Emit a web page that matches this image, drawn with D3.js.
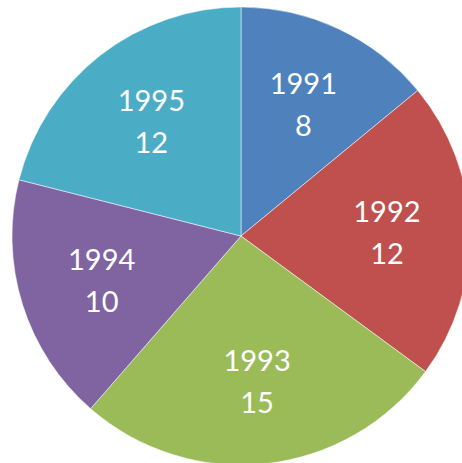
<!DOCTYPE html>
<html>
<head>
<meta charset="utf-8">
<script src="https://cdn.jsdelivr.net/npm/d3@7"></script>
<style>
  body { margin: 0; background: #fff; }
</style>
</head>
<body>
<div id="pie"></div>
<script>
// values
var years = ["1991", "1992", "1993", "1994", "1995"];
var counts = [8, 12, 15, 10, 12];
var colors = ["#4f81bd", "#c0504d", "#9bbb59", "#8064a2", "#4bacc6"];

var width = 462, height = 463;
var cx = 241, cy = 236, radius = 229;

var svg = d3.select("#pie")
  .append("svg")
  .attr("width", width)
  .attr("height", height)
  .append("g")
  .attr("transform", `translate(${cx},${cy})`);

var data = years.map((y, i) => ({year: y, value: counts[i]}));

var pie = d3.pie()
  .value(d => d.value)
  .sort(null);

var arc = d3.arc().innerRadius(0).outerRadius(radius);
var labelArc = d3.arc().innerRadius(146).outerRadius(146);

var color = d3.scaleOrdinal().domain(years).range(colors);

var slices = pie(data);

svg.selectAll("path")
  .data(slices)
  .join("path")
  .attr("d", arc)
  .attr("fill", d => color(d.data.year))
  .attr("stroke", "rgba(255,255,255,0.5)")
  .attr("stroke-width", 1);

var labels = svg.selectAll("text")
  .data(slices)
  .join("text")
  .attr("transform", d => `translate(${labelArc.centroid(d)})`)
  .attr("text-anchor", "middle")
  .style("font-family", "Lato, 'Open Sans', sans-serif")
  .style("font-size", "29px")
  .style("fill", "#fff");

labels.append("tspan")
  .attr("x", 0)
  .attr("y", -10)
  .text(d => d.data.year);

labels.append("tspan")
  .attr("x", 0)
  .attr("y", 32)
  .text(d => d.data.value);
</script>
</body>
</html>
